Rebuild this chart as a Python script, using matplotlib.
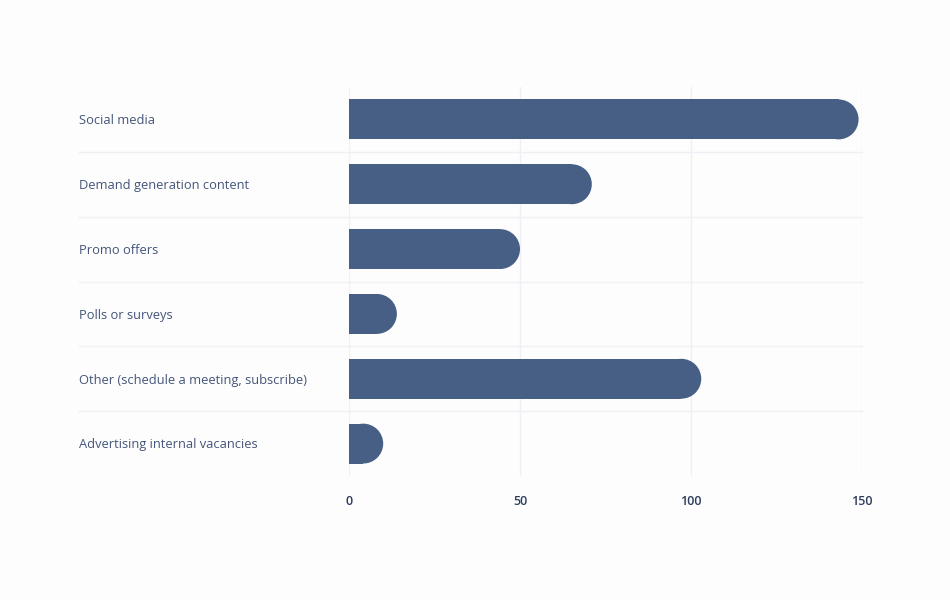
import matplotlib
matplotlib.use("Agg")
from matplotlib import pyplot as plt
from matplotlib.patches import Ellipse
from matplotlib import transforms

# data
categories = [
    "Social media",
    "Demand generation content",
    "Promo offers",
    "Polls or surveys",
    "Other (schedule a meeting, subscribe)",
    "Advertising internal vacancies",
]
values = [149, 71, 50, 14, 103, 10]
x_ticks = [0, 50, 100, 150]

bar_color = "#475f85"
grid_color = "#eef0f6"
label_color = "#44557a"
tick_color = "#2e3d5e"

plt.rcParams["font.family"] = ["Open Sans", "DejaVu Sans"]

fig = plt.figure(figsize=(9.5, 6), dpi=100, facecolor="#fdfdfd")
W, H = 950, 600
left, right, top, bottom = 349, 862, 87, 476
ax = fig.add_axes([left / W, 1 - bottom / H, (right - left) / W, (bottom - top) / H])
ax.set_facecolor("#fdfdfd")

n = len(categories)
ys = list(range(n))
ax.set_xlim(0, 150)
ax.set_ylim(n - 0.5, -0.5)

bar_h = 0.615
# radius of the rounded end, converted to data units along x
px_per_unit = (right - left) / 150
row_px = (bottom - top) / n
rx = (bar_h * row_px / 2) / px_per_unit

for y, v in zip(ys, values):
    r = min(rx, v)
    ax.barh(y, v - r, height=bar_h, color=bar_color, linewidth=0, zorder=3)
    ax.add_patch(Ellipse((v - r, y), 2 * r, bar_h, facecolor=bar_color,
                         edgecolor="none", zorder=3))

# vertical grid lines
for t in x_ticks:
    ax.axvline(t, color=grid_color, linewidth=1, zorder=1)

# row separators reaching under the labels
trans = transforms.blended_transform_factory(ax.transAxes, ax.transData)
x0 = (79 - left) / (right - left)
for k in range(n - 1):
    ax.plot([x0, 1], [k + 0.5, k + 0.5], transform=trans, color=grid_color,
            linewidth=1, clip_on=False, zorder=1)

# category labels, left aligned
for y, c in zip(ys, categories):
    ax.text(x0, y + 0.02, c, transform=trans, ha="left", va="center",
            fontsize=9.3, color=label_color)

ax.set_yticks([])
ax.set_xticks(x_ticks)
ax.set_xticklabels([str(t) for t in x_ticks], fontsize=9, fontweight="semibold",
                   color=tick_color)
ax.tick_params(axis="x", length=0, pad=14)
for s in ax.spines.values():
    s.set_visible(False)

fig.savefig("out.png", dpi=100, facecolor=fig.get_facecolor())
